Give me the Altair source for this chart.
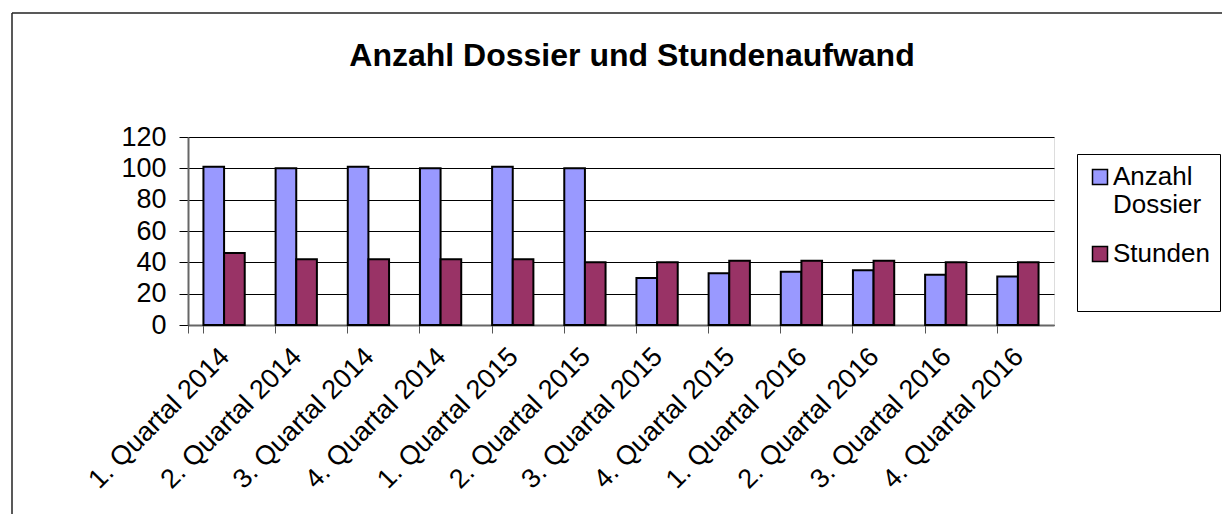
import altair as alt
import pandas as pd

quarters = ["1. Quartal 2014", "2. Quartal 2014", "3. Quartal 2014", "4. Quartal 2014",
            "1. Quartal 2015", "2. Quartal 2015", "3. Quartal 2015", "4. Quartal 2015",
            "1. Quartal 2016", "2. Quartal 2016", "3. Quartal 2016", "4. Quartal 2016"]
anzahl_dossier = [101, 100, 101, 100, 101, 100, 30, 33, 34, 35, 32, 31]
stunden = [46, 42, 42, 42, 42, 40, 40, 41, 41, 41, 40, 40]
series_names = ["Anzahl Dossier", "Stunden"]
series_colors = ["#9999FF", "#993366"]
y_ticks = [0, 20, 40, 60, 80, 100, 120]

rows = []
for q, a, s in zip(quarters, anzahl_dossier, stunden):
    rows.append({"Quartal": q, "Serie": series_names[0], "Wert": a})
    rows.append({"Quartal": q, "Serie": series_names[1], "Wert": s})
df = pd.DataFrame(rows)

FONT = "Liberation Sans"

bars = alt.Chart(df).mark_bar(stroke="black", strokeWidth=2).encode(
    x=alt.X("Quartal:N", sort=quarters, title=None,
            scale=alt.Scale(paddingInner=0.428, paddingOuter=0.214),
            axis=alt.Axis(labelAngle=-45, labelFontSize=27, labelFont=FONT, labelColor="black",
                          labelPadding=10, labelOffset=-8, tickSize=8, tickColor="#555555",
                          tickWidth=1, bandPosition=0, tickExtra=True, domainColor="#666666",
                          domainWidth=2, grid=False, labelLimit=400)),
    xOffset=alt.XOffset("Serie:N", sort=series_names,
                        scale=alt.Scale(paddingInner=0, paddingOuter=0)),
    y=alt.Y("Wert:Q", title=None,
            scale=alt.Scale(domain=[0, 120], nice=False),
            axis=alt.Axis(values=y_ticks, labelFontSize=27, labelFont=FONT, labelColor="black",
                          tickSize=9, tickColor="black", tickWidth=1, labelPadding=13,
                          domainColor="#666666", domainWidth=2,
                          grid=True, gridColor="black", gridWidth=1, gridOpacity=1)),
    color=alt.Color("Serie:N", sort=series_names,
                    scale=alt.Scale(domain=series_names, range=series_colors),
                    legend=alt.Legend(title=" ", titleOrient="bottom", titleFontSize=20,
                                      titlePadding=14,
                                      orient="none", legendX=889, legendY=17,
                                      padding=10, strokeColor="black", fillColor="white",
                                      symbolType="square", symbolSize=225,
                                      symbolStrokeColor="black", symbolStrokeWidth=1.5,
                                      labelFontSize=26, labelFont=FONT, labelColor="black",
                                      labelOffset=0, labelBaseline="middle",
                                      rowPadding=23, labelLimit=300,
                                      labelExpr="datum.label == 'Anzahl Dossier' ? ['Anzahl', 'Dossier'] : datum.label")),
)

frame_df = pd.DataFrame({"a": [0]})
frame_top = alt.Chart(frame_df).mark_rule(color="#222222", strokeWidth=1.5).encode(
    x=alt.value(-176), x2=alt.value(1200), y=alt.value(-124))
frame_left = alt.Chart(frame_df).mark_rule(color="#222222", strokeWidth=1.5).encode(
    x=alt.value(-176), y=alt.value(-124), y2=alt.value(400))

chart = alt.layer(bars, frame_top, frame_left).properties(
    width=866, height=188,
    autosize=alt.AutoSizeParams(type="none"),
    padding={"left": 180, "top": 129, "right": 168, "bottom": 189},
    title=alt.TitleParams("Anzahl Dossier und Stundenaufwand", fontSize=32, font=FONT,
                          fontWeight="bold", color="black", anchor="middle", frame="group",
                          dx=11, offset=0, dy=61),
).configure_view(
    fill="#C0C0C0", stroke="#808080", strokeWidth=1.5
).configure(background="white")

chart.save("out.html", embed_options={"renderer": "svg", "actions": False})
